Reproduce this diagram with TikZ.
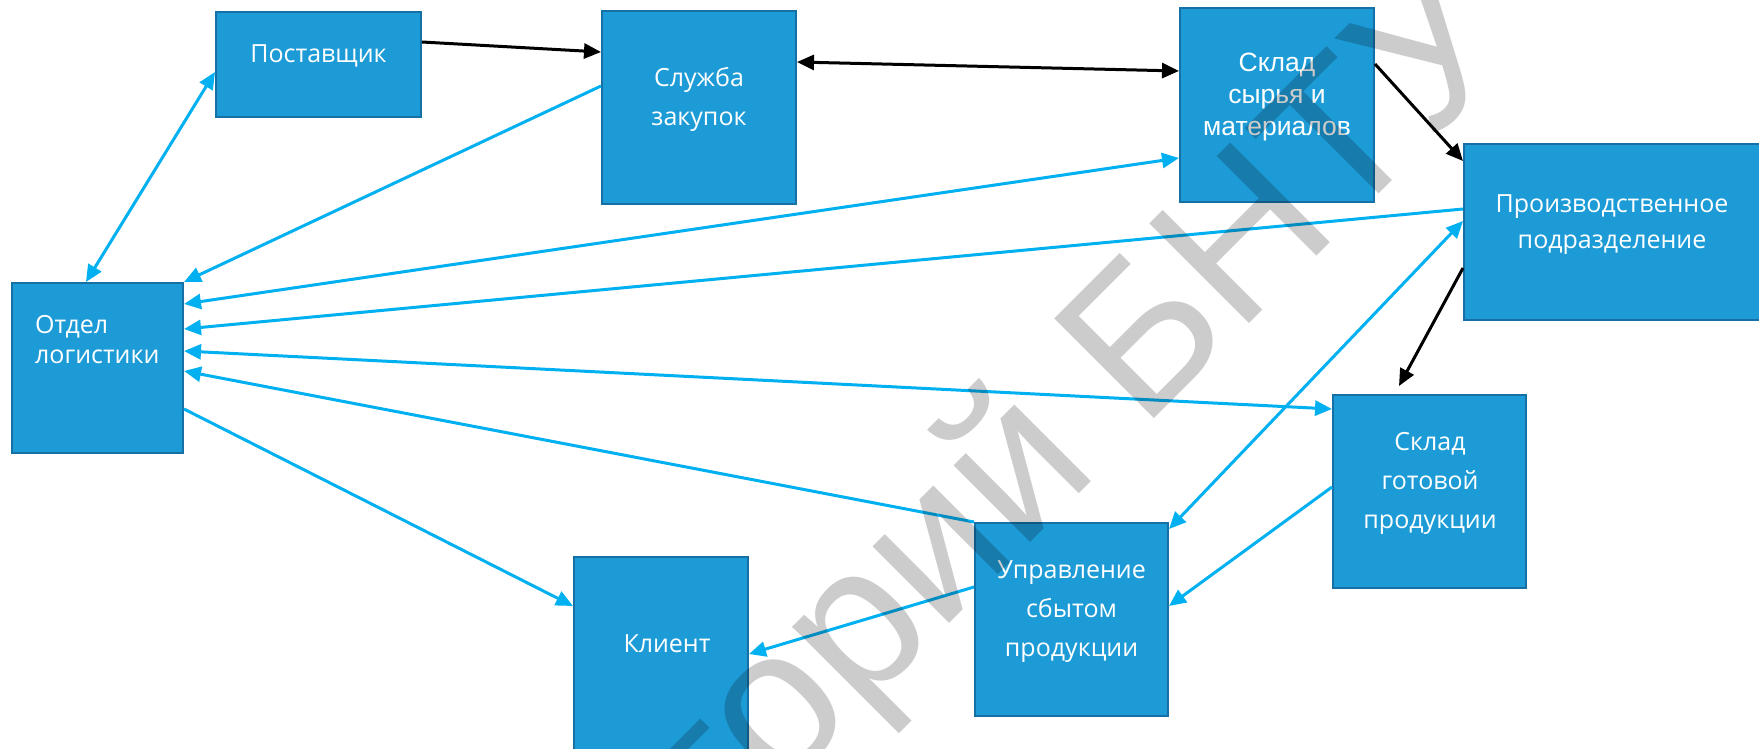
\documentclass[tikz,border=0pt]{standalone}
\usepackage{fontspec}
\setmainfont{Open Sans}
\newfontfamily\arialf{Liberation Sans}
\usetikzlibrary{arrows.meta}
\definecolor{boxfill}{RGB}{29,155,215}
\definecolor{boxline}{RGB}{22,112,165}
\definecolor{linkblue}{RGB}{0,176,240}
\begin{document}
\begin{tikzpicture}[x=1pt,y=-1pt,
  box/.style={draw=boxline, line width=2pt, fill=boxfill, rectangle, inner sep=0pt},
  txt/.style={text=white, inner sep=0pt, align=center, font=\fontsize{25}{39}\selectfont},
  blk/.style={draw=black, line width=3pt, -{Triangle[length=17pt,width=15pt]}},
  blk2/.style={draw=black, line width=3pt, {Triangle[length=17pt,width=15pt]}-{Triangle[length=17pt,width=15pt]}},
  blu/.style={draw=linkblue, line width=3pt, -{Triangle[length=17pt,width=15pt]}},
  blu2/.style={draw=linkblue, line width=3pt, {Triangle[length=17pt,width=15pt]}-{Triangle[length=17pt,width=15pt]}},
  wm/.style={text=black, text opacity=0.2, inner sep=0pt, font=\arialf\fontsize{205}{205}\selectfont}]
\useasboundingbox (0,0) rectangle (1759,749);
\fill[white] (0,0) rectangle (1759,749);

% boxes
\node[box, minimum width=205pt, minimum height=105pt] (sup) at (318.5,64.5) {};
\node[box, minimum width=194pt, minimum height=193pt] (zak) at (699,107.5) {};
\node[box, minimum width=194pt, minimum height=194pt] (sk1) at (1277,105) {};
\node[box, minimum width=297pt, minimum height=176pt] (prod) at (1612.5,232) {};
\node[box, minimum width=171pt, minimum height=170pt] (otd) at (97.5,368) {};
\node[box, minimum width=193pt, minimum height=193pt] (sk2) at (1429.5,491.5) {};
\node[box, minimum width=193pt, minimum height=193pt] (upr) at (1071.5,619.5) {};
\node[box, minimum width=174pt, minimum height=196pt] (kli) at (661,655) {};

% texts (anchor = baseline of the last line)
\node[txt, anchor=base] (tsup) at (318.5,63) {Поставщик};
\node[txt, anchor=base] (tzak) at (699,126) {Служба\\закупок};
\node[txt, anchor=base, font=\arialf\fontsize{26.5}{31.75}\selectfont] (tsk1) at (1277,135.5) {Склад\\сырья и\\материалов};
\node[txt, anchor=base, font=\fontsize{25}{36}\selectfont] (tprod) at (1612,248) {Производственное\\подразделение};
\node[txt, anchor=base west, align=left, font=\fontsize{25}{30}\selectfont] (totd) at (35,363) {Отдел\\логистики};
\node[txt, anchor=base] (tsk2) at (1430,528) {Склад\\готовой\\продукции};
\node[txt, anchor=base] (tupr) at (1071.5,656) {Управление\\сбытом\\продукции};
\node[txt, anchor=base] (tkli) at (667,652) {Клиент};

% black connectors
\draw[blk] ([yshift=-31pt]sup.north east) -- ([yshift=-42pt]zak.north west);
\draw[blk2] ([yshift=-52pt]zak.north east) -- ([yshift=-64pt]sk1.north west);
\draw[blk] ([yshift=-57pt]sk1.north east) -- ([yshift=-18pt]prod.north west);
\draw[blk] ([yshift=53pt]prod.south west) -- ([xshift=67pt,yshift=8pt]sk2.north west);

% blue connectors
\draw[blu2] ([yshift=-61pt]sup.north west) -- ([xshift=75pt]otd.north west);
\draw[blu] ([yshift=-76pt]zak.north west) -- (otd.north east);
\draw[blu2] ([yshift=-22pt]otd.north east) -- ([yshift=-151pt]sk1.north west);
\draw[blu] ([yshift=-66pt]prod.north west) -- ([yshift=-47pt]otd.north east);
\draw[blu2] ([yshift=-69pt]otd.north east) -- ([yshift=-15pt]sk2.north west);
\draw[blu] (upr.north west) -- ([yshift=-89pt]otd.north east);
\draw[blu] ([yshift=-127pt]otd.north east) -- ([yshift=-50pt]kli.north west);
\draw[blu] ([yshift=-65pt]upr.north west) -- ([yshift=-98pt]kli.north east);
\draw[blu2] ([yshift=-7pt]upr.north east) -- ([yshift=-78pt]prod.north west);
\draw[blu] ([yshift=-93pt]sk2.north west) -- ([yshift=-84pt]upr.north east);

% watermark
\node[wm, rotate=45, anchor=base west] (wmark) at (1142,431) {\llap{Репозиторий }БНТУ};
\end{tikzpicture}
\end{document}
